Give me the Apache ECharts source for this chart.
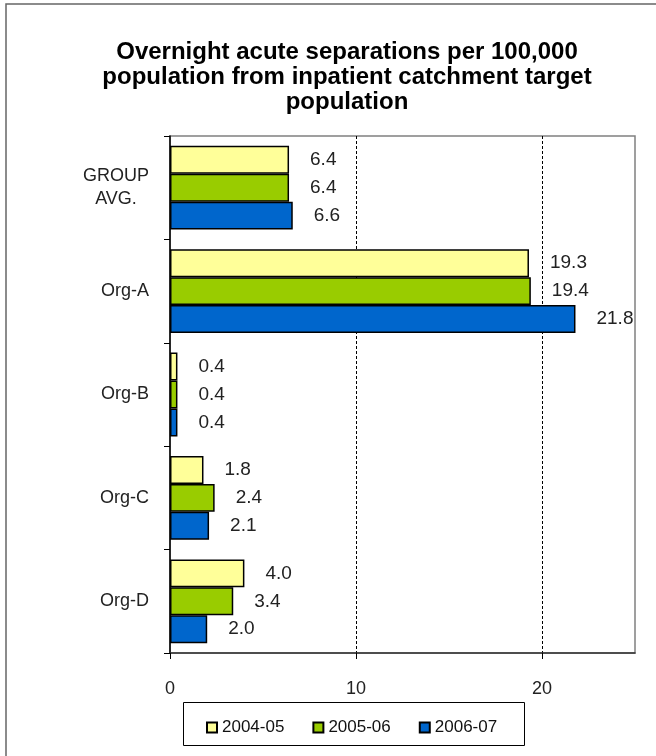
<!DOCTYPE html>
<html><head><meta charset="utf-8">
<script src="https://cdn.jsdelivr.net/npm/echarts@6/dist/echarts.min.js"></script>
<style>html,body{margin:0;padding:0;background:#fff}#c{width:656px;height:756px}</style>
</head><body><div id="c"></div>
<script>
var categories = ['GROUP\nAVG.', 'Org-A', 'Org-B', 'Org-C', 'Org-D'];
var seriesNames = ['2004-05', '2005-06', '2006-07'];
var values2004 = [6.4, 19.3, 0.4, 1.8, 4.0];
var values2005 = [6.4, 19.4, 0.4, 2.4, 3.4];
var values2006 = [6.6, 21.8, 0.4, 2.1, 2.0];
var xTicks = [0, 10, 20];
var colors = ['#FFFF99', '#99CC00', '#0066CC'];
var FONT = '"Liberation Sans", Arial, sans-serif';

var chart = echarts.init(document.getElementById('c'), null, {renderer: 'canvas'});
function mk(name, data, color) {
  return {
    name: name, type: 'bar', data: data, barGap: '0%', barCategoryGap: '19%',
    itemStyle: {color: color, borderColor: '#000', borderWidth: 1.5},
    label: {show: true, position: 'right', distance: 21, color: '#222', fontFamily: FONT, fontSize: 19,
      formatter: function (p) { return p.value.toFixed(1); }},
    animation: false
  };
}
chart.setOption({
  animation: false,
  title: {
    text: 'Overnight acute separations per 100,000\npopulation from inpatient catchment target\npopulation',
    left: 342, textAlign: 'center', top: 35,
    textStyle: {fontFamily: FONT, fontWeight: 'bold', fontSize: 24, lineHeight: 25, color: '#000'}
  },
  graphic: [
    {type: 'rect', shape: {x: 6, y: 4, width: 700, height: 800}, style: {fill: 'none', stroke: '#666', lineWidth: 1.5}, z: 100},
    {type: 'rect', shape: {x: 183.5, y: 702.5, width: 341, height: 43}, style: {fill: 'none', stroke: '#000', lineWidth: 1}, z: 100}
  ],
  legend: {
    data: seriesNames, left: 201, top: 714, itemWidth: 10, itemHeight: 10, itemGap: 28,
    icon: 'rect', textStyle: {fontFamily: FONT, fontSize: 17, color: '#111'}
  },
  grid: {left: 170, right: 21, top: 136, bottom: 103, show: true, borderColor: '#808080', borderWidth: 1.5},
  xAxis: {
    type: 'value', min: 0, max: 25, interval: 10,
    axisLine: {show: true, lineStyle: {color: '#333', width: 1.5}},
    axisTick: {show: true, length: 6, inside: false, customValues: xTicks, lineStyle: {color: '#000'}},
    axisLabel: {margin: 27, fontFamily: FONT, fontSize: 18, color: '#222', customValues: xTicks,
      formatter: function (v) { return String(v); }},
    splitLine: {show: true, showMinLine: false, showMaxLine: true, lineStyle: {color: '#000', type: [3, 2], width: 1}}
  },
  yAxis: {
    type: 'category', data: categories, inverse: true,
    axisLine: {show: true, lineStyle: {color: '#000', width: 1.5}},
    axisTick: {show: true, length: 6, alignWithLabel: false, lineStyle: {color: '#000'}},
    axisLabel: {margin: 21, fontFamily: FONT, fontSize: 18, color: '#222', lineHeight: 23,
      formatter: function (v) { return v.split('\n').map(function (s) { return '{c|' + s + '}'; }).join('\n'); },
      rich: {c: {align: 'center', fontFamily: FONT, fontSize: 18, color: '#222', lineHeight: 23}}},
    splitLine: {show: false}
  },
  series: [mk(seriesNames[0], values2004, colors[0]), mk(seriesNames[1], values2005, colors[1]), mk(seriesNames[2], values2006, colors[2])]
});
</script></body></html>
